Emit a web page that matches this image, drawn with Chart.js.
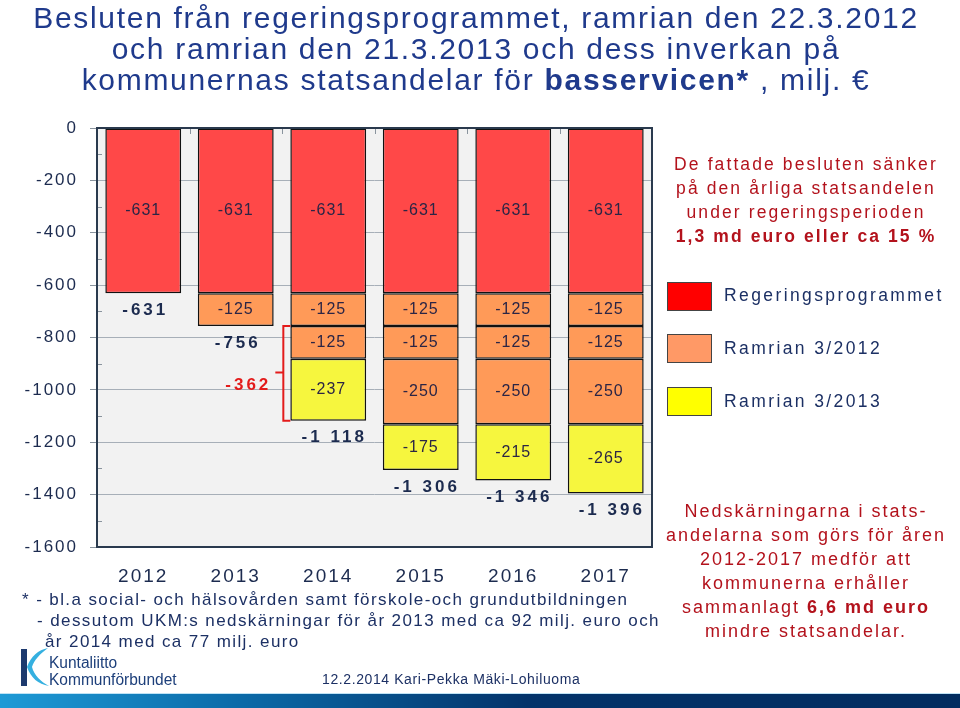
<!DOCTYPE html>
<html>
<head>
<meta charset="utf-8">
<script src="https://cdn.jsdelivr.net/npm/chart.js@4/dist/chart.umd.min.js"></script>
<style>
  body { margin:0; width:960px; height:708px; background:#fff; overflow:hidden; position:relative; font-family:"Liberation Sans", Arial, sans-serif; }
  #c { position:absolute; left:0; top:0; }
  .t { position:absolute; }
  #title { left:-4px; width:960px; top:2px; text-align:center; color:#1f3a8c; font-size:30px; line-height:31px; letter-spacing:1.7px; }
  #note1 { left:656px; width:300px; top:152px; text-align:center; color:#b3121c; font-size:17.5px; line-height:24px; letter-spacing:2.1px; }
  .leg { position:absolute; left:667px; width:45px; height:29px; border:1px solid #444; box-sizing:border-box; }
  .legt { position:absolute; left:724px; color:#1c3064; font-size:17.5px; letter-spacing:2.4px; }
  #note2 { left:656px; width:300px; top:499px; text-align:center; color:#b3121c; font-size:18px; line-height:24px; letter-spacing:2px; }
  .foot { position:absolute; color:#1c3064; font-size:17px; line-height:21px; letter-spacing:1.4px; white-space:nowrap; }
  #sign { left:322px; top:671px; color:#1c3064; font-size:14px; letter-spacing:0.6px; white-space:nowrap; }
  #band { position:absolute; left:0; top:693px; width:960px; height:15px; background:linear-gradient(90deg,#1e9ad6 0%,#0b6aa8 25%,#03336a 55%,#022c5f 100%); border-top:1px solid #bfe3f5; }
  #logo { position:absolute; left:18px; top:647px; }
  #logot { left:49px; top:654px; color:#1d3f7a; font-size:16px; line-height:17px; transform:scaleX(0.97); transform-origin:0 0; white-space:nowrap; }
</style>
</head>
<body>
<canvas id="c" width="960" height="708"></canvas>
<div id="title" class="t">Besluten från regeringsprogrammet, ramrian den 22.3.2012<br>och ramrian den 21.3.2013 och dess inverkan på<br>kommunernas statsandelar för <b>basservicen*</b> , milj. €</div>
<div id="note1" class="t">De fattade besluten sänker<br>på den årliga statsandelen<br>under regeringsperioden<br><b>1,3 md euro eller ca 15 %</b></div>
<div class="leg" style="top:282px;background:#ff0000"></div>
<div class="leg" style="top:334px;background:#ff9966"></div>
<div class="leg" style="top:387px;background:#ffff00"></div>
<div class="legt" style="top:285px">Regeringsprogrammet</div>
<div class="legt" style="top:338px">Ramrian 3/2012</div>
<div class="legt" style="top:391px">Ramrian 3/2013</div>
<div id="note2" class="t">Nedskärningarna i stats-<br>andelarna som görs för åren<br>2012-2017 medför att<br>kommunerna erhåller<br>sammanlagt <b>6,6 md euro</b><br>mindre statsandelar.</div>
<div class="foot" style="left:22px;top:589px">* - bl.a social- och hälsovården samt förskole-och grundutbildningen</div>
<div class="foot" style="left:37px;top:610px">- dessutom UKM:s nedskärningar för år 2013 med ca 92 milj. euro och</div>
<div class="foot" style="left:45px;top:631px">år 2014 med ca 77 milj. euro</div>
<svg id="logo" width="34" height="42" viewBox="0 0 34 42">
  <rect x="3" y="2" width="6" height="37" fill="#1d3a6e"/>
  <path d="M9 20 C13 9 20 3 30 1 C22 7 16 13 14 20 C16 28 23 35 31 39 C20 37 13 31 9 20 Z" fill="#35b0e0"/>
</svg>
<div id="logot" class="t">Kuntaliitto<br>Kommunförbundet</div>
<div id="sign" class="t">12.2.2014 Kari-Pekka Mäki-Lohiluoma</div>
<div id="band"></div>
<script>
// values in milj. euro
var years = ['2012', '2013', '2014', '2015', '2016', '2017'];
var regeringsprogrammet = [-631, -631, -631, -631, -631, -631];
var ramrian2012a = [null, -125, -125, -125, -125, -125];
var ramrian2012b = [null, null, -125, -125, -125, -125];
var ramrian2013first = [null, null, -237, null, null, null];
var ramrian2012c = [null, null, null, -250, -250, -250];
var ramrian2013 = [null, null, null, -175, -215, -265];
var yTicks = [0, -200, -400, -600, -800, -1000, -1200, -1400, -1600];

var RED = '#ff4848', ORANGE = '#ff9a58', YELLOW = '#f6f63e';

function ds(label, data, color) {
    return { label: label, data: data, backgroundColor: color, borderColor: '#111', borderWidth: 1.5, borderSkipped: false };
}

function fmt(v) {
    var s = String(Math.abs(v));
    if (s.length > 3) s = s.slice(0, s.length - 3) + ' ' + s.slice(-3);
    return (v < 0 ? '-' : '') + s;
}

var sets = [
    ds('Regeringsprogrammet', regeringsprogrammet, RED),
    ds('Ramrian 3/2012', ramrian2012a, ORANGE),
    ds('Ramrian 3/2012', ramrian2012b, ORANGE),
    ds('Ramrian 3/2013', ramrian2013first, YELLOW),
    ds('Ramrian 3/2012', ramrian2012c, ORANGE),
    ds('Ramrian 3/2013', ramrian2013, YELLOW)
];

var totals = years.map(function(y, i) {
    var s = 0;
    sets.forEach(function(d) { if (d.data[i] != null) s += d.data[i]; });
    return s;
});

var labelsPlugin = {
    id: 'labels',
    beforeDraw: function(chart) {
        var a = chart.chartArea, ctx = chart.ctx;
        ctx.save();
        ctx.fillStyle = '#f2f2f2';
        ctx.fillRect(a.left, a.top, a.right - a.left, a.bottom - a.top);
        ctx.restore();
        ctx.letterSpacing = '2px';
    },
    afterDatasetsDraw: function(chart) {
        var ctx = chart.ctx, a = chart.chartArea, y = chart.scales.y, x = chart.scales.x;
        ctx.save();
        // minor ticks on the value axis, small ticks at the top between categories
        ctx.strokeStyle = '#8a949e';
        ctx.lineWidth = 1;
        for (var v = -100; v > -1600; v -= 200) {
            var py = Math.round(y.getPixelForValue(v)) + 0.5;
            ctx.beginPath(); ctx.moveTo(a.left, py); ctx.lineTo(a.left + 5, py); ctx.stroke();
        }
        var step = (a.right - a.left) / years.length;
        for (var k = 1; k < years.length; k++) {
            var px = Math.round(a.left + step * k) + 0.5;
            ctx.beginPath(); ctx.moveTo(px, a.top); ctx.lineTo(px, a.top + 6); ctx.stroke();
        }
        // frame
        ctx.strokeStyle = '#2a3a4e';
        ctx.lineWidth = 2;
        ctx.strokeRect(a.left, a.top, a.right - a.left, a.bottom - a.top);

        // segment values
        ctx.textAlign = 'center';
        ctx.textBaseline = 'middle';
        ctx.font = '16px "Liberation Sans", Arial, sans-serif';
        ctx.fillStyle = '#2b2545';
        ctx.letterSpacing = '1px';
        chart.data.datasets.forEach(function(d, di) {
            var meta = chart.getDatasetMeta(di);
            meta.data.forEach(function(bar, i) {
                if (d.data[i] == null) return;
                ctx.fillText(String(d.data[i]), bar.x, (bar.y + bar.base) / 2);
            });
        });

        // totals under the bars
        ctx.font = 'bold 17px "Liberation Sans", Arial, sans-serif';
        ctx.fillStyle = '#1c2b4f';
        ctx.letterSpacing = '3px';
        totals.forEach(function(t, i) {
            ctx.fillText(fmt(t), x.getPixelForValue(i) + (i > 1 ? 6 : 2), y.getPixelForValue(t) + 17);
        });

        // bracket between 2013 and 2014
        var bar14 = chart.getDatasetMeta(0).data[2];
        var bx = bar14.x - bar14.width / 2 - 7;
        var y1 = y.getPixelForValue(totals[1]), y2 = y.getPixelForValue(totals[2]);
        var ym = (y1 + y2) / 2;
        ctx.strokeStyle = '#e31b1b';
        ctx.lineWidth = 2;
        ctx.beginPath();
        ctx.moveTo(bx + 7, y1); ctx.lineTo(bx, y1); ctx.lineTo(bx, y2); ctx.lineTo(bx + 7, y2);
        ctx.moveTo(bx, ym - 1); ctx.lineTo(bx - 8, ym - 1);
        ctx.stroke();
        ctx.fillStyle = '#e31b1b';
        ctx.textAlign = 'right';
        ctx.fillText(fmt(totals[2] - totals[1]), bx - 12, ym + 12);
        ctx.restore();
    }
};

new Chart(document.getElementById('c'), {
    type: 'bar',
    data: { labels: years, datasets: sets },
    options: {
        responsive: false,
        animation: false,
        devicePixelRatio: 1,
        layout: { padding: { left: 0, top: 128, right: 308, bottom: 116 } },
        plugins: { legend: { display: false }, tooltip: { enabled: false } },
        datasets: { bar: { categoryPercentage: 1, barPercentage: 0.82 } },
        scales: {
            x: {
                stacked: true,
                grid: { display: false },
                border: { display: false },
                ticks: { color: '#1c2b4f', padding: 10, font: { family: '"Liberation Sans", Arial, sans-serif', size: 19 } },
                afterFit: function(s) { s.height = 45; }
            },
            y: {
                stacked: true,
                min: -1600,
                max: 0,
                afterBuildTicks: function(s) { s.ticks = yTicks.map(function(v) { return { value: v }; }); },
                grid: { color: '#a7afb8', tickLength: 7, tickColor: '#8a949e' },
                border: { display: false },
                ticks: {
                    color: '#1c2b4f', padding: 12,
                    font: { family: '"Liberation Sans", Arial, sans-serif', size: 17 },
                    callback: function(v) { return String(v); }
                },
                afterFit: function(s) { s.width = 97; }
            }
        }
    },
    plugins: [labelsPlugin]
});
</script>
</body>
</html>
